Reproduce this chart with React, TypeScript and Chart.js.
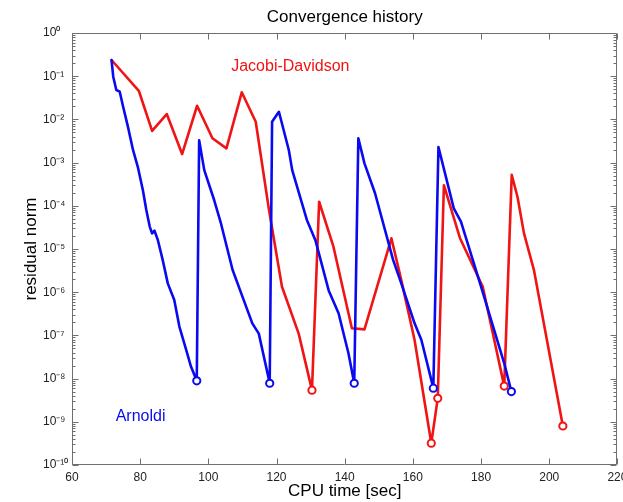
import React, { useEffect, useRef } from 'react';
import { Chart, registerables } from 'chart.js';

Chart.register(...registerables);

// ---- Data ----
const arnoldiTime = [
  71.6, 72.1, 73.0, 74.0, 75.0, 76.4, 77.9, 79.3, 80.8, 81.8, 82.8, 83.5, 84.2, 85.2, 86.6, 88.1, 90.0, 91.5, 93.5, 94.9, 96.6,
  97.3, 98.8, 101.7, 103.7, 107.1, 110.0, 112.9, 114.8, 118.0,
  118.7, 120.7, 123.6, 124.6, 128.9, 131.4, 135.3, 138.2, 141.1, 142.8,
  144.0, 145.8, 148.9, 154.2, 156.6, 160.5, 162.5, 166.0,
  167.5, 172.0, 174.1, 180.0, 186.8, 188.9,
];
const arnoldiRes = [
  0.237, 0.0975, 0.048, 0.0438, 0.0197, 6.8e-3, 1.96e-3, 8.0e-4, 2.3e-4, 8.0e-5, 3.3e-5, 2.3e-5, 2.65e-5, 1.6e-5, 5.6e-6, 1.6e-6, 6.6e-7, 1.6e-7, 4.6e-8, 1.9e-8, 8.9e-9,
  3.3e-3, 6.7e-4, 1.36e-4, 3.9e-5, 3.3e-6, 7.9e-7, 1.9e-7, 1.1e-7, 7.8e-9,
  8.8e-3, 1.5e-2, 1.96e-3, 6.7e-4, 4.7e-5, 1.6e-5, 1.1e-6, 3.25e-7, 3.85e-8, 7.8e-9,
  3.65e-3, 9.6e-4, 1.95e-4, 5.6e-6, 1.6e-6, 1.9e-7, 7.8e-8, 6.0e-9,
  2.3e-3, 8.7e-5, 4.3e-5, 1.34e-6, 2.26e-8, 5.0e-9,
];
const arnoldiMarkers = [20, 29, 39, 47, 53];

const jdTime = [
  71.6, 79.6, 83.5, 87.8, 92.3, 96.7, 101.2, 105.3, 109.8, 113.9, 117.8, 121.6, 126.5, 130.4,
  132.5, 136.7, 142.1, 145.8, 153.7, 156.6, 160.5, 165.4,
  167.3, 169.1, 173.8, 180.5, 186.8,
  189.0, 190.7, 192.6, 195.5, 204.0,
];
const jdRes = [
  0.237, 0.046, 5.4e-3, 1.33e-2, 1.58e-3, 2.07e-2, 3.65e-3, 2.14e-3, 4.24e-2, 8.8e-3, 8.0e-5, 1.34e-6, 1.1e-7, 5.4e-9,
  1.24e-4, 1.13e-5, 1.46e-7, 1.38e-7, 1.77e-5, 1.9e-6, 7.8e-8, 3.2e-10,
  3.5e-9, 3.0e-4, 1.8e-5, 1.34e-6, 6.7e-9,
  5.2e-4, 1.6e-4, 2.3e-5, 3.3e-6, 8.0e-10,
];
const jdMarkers = [13, 21, 22, 26, 31];

const xTickValues = [60, 80, 100, 120, 140, 160, 180, 200, 220];
const yDecades = [-10, -9, -8, -7, -6, -5, -4, -3, -2, -1, 0];

const noteTexts = ['Jacobi-Davidson', 'Arnoldi'];
const noteX = [106.7, 72.8];
const noteY = [0.163, 1.29e-9];

const BLUE = '#0a0af0';
const RED = '#f01414';
const noteColors = [RED, BLUE];
const AXIS = '#6f6f6f';
const FONT = '"Liberation Sans", Arial, Helvetica, sans-serif';

const SUP: Record<string, string> = {
  '0': '\u2070', '1': '\u00b9', '2': '\u00b2', '3': '\u00b3', '4': '\u2074',
  '5': '\u2075', '6': '\u2076', '7': '\u2077', '8': '\u2078', '9': '\u2079', '-': '\u207b',
};
const sup = (n: number) => String(n).split('').map((c) => SUP[c] || c).join('');

const framePlugin = {
  id: 'frame',
  beforeDatasetsDraw(chart: any) {
    const { ctx, chartArea: a, scales } = chart;
    const xs = scales.x;
    const ys = scales.y;
    ctx.save();
    ctx.strokeStyle = AXIS;
    ctx.lineWidth = 1;
    const L = Math.round(a.left) + 0.5;
    const R = Math.round(a.right) - 0.5;
    const T = Math.round(a.top) + 0.5;
    const B = Math.round(a.bottom) - 0.5;
    ctx.beginPath();
    ctx.rect(L, T, R - L, B - T);
    // x major ticks (inward, top and bottom)
    xTickValues.forEach((v) => {
      const p = Math.round(xs.getPixelForValue(v)) + 0.5;
      ctx.moveTo(p, B); ctx.lineTo(p, B - 6);
      ctx.moveTo(p, T); ctx.lineTo(p, T + 6);
    });
    // y major + minor ticks (inward, left and right)
    yDecades.forEach((e) => {
      const p = Math.round(ys.getPixelForValue(Math.pow(10, e))) + 0.5;
      ctx.moveTo(L, p); ctx.lineTo(L + 6, p);
      ctx.moveTo(R, p); ctx.lineTo(R - 6, p);
      if (e < 0) {
        for (let m = 2; m <= 9; m++) {
          const q = Math.round(ys.getPixelForValue(m * Math.pow(10, e))) + 0.5;
          ctx.moveTo(L, q); ctx.lineTo(L + 3, q);
          ctx.moveTo(R, q); ctx.lineTo(R - 3, q);
        }
      }
    });
    ctx.stroke();
    ctx.restore();
  },
  afterDatasetsDraw(chart: any) {
    const { ctx, scales } = chart;
    ctx.save();
    ctx.font = `16px ${FONT}`;
    ctx.textAlign = 'left';
    ctx.textBaseline = 'middle';
    noteTexts.forEach((t, i) => {
      ctx.fillStyle = noteColors[i];
      ctx.fillText(t, scales.x.getPixelForValue(noteX[i]), scales.y.getPixelForValue(noteY[i]));
    });
    ctx.restore();
  },
};

export default function App() {
  const ref = useRef<HTMLCanvasElement>(null);
  useEffect(() => {
    if (!ref.current) return;
    Chart.defaults.font.family = FONT;
    const mk = (ts: number[], rs: number[]) => ts.map((t, i) => ({ x: t, y: rs[i] }));
    const lineStyle = (color: string, markers: number[]) => ({
      borderColor: color,
      borderWidth: 2.6,
      borderJoinStyle: 'round',
      borderCapStyle: 'round',
      tension: 0,
      pointRadius: (c: any) => (markers.includes(c.dataIndex) ? 3.6 : 0),
      pointBorderColor: color,
      pointBackgroundColor: '#ffffff',
      pointBorderWidth: 2,
      pointHoverRadius: 0,
    });
    const chart = new Chart(ref.current, {
      type: 'line',
      data: {
        datasets: [
          { label: 'Arnoldi', data: mk(arnoldiTime, arnoldiRes), ...lineStyle(BLUE, arnoldiMarkers) },
          { label: 'Jacobi-Davidson', data: mk(jdTime, jdRes), ...lineStyle(RED, jdMarkers) },
        ],
      } as any,
      options: {
        animation: false,
        responsive: false,
        devicePixelRatio: 1,
        layout: { padding: { left: 43, right: 2, top: 0, bottom: 0 } },
        plugins: {
          legend: { display: false },
          tooltip: { enabled: false },
          title: {
            display: true,
            text: 'Convergence history',
            fullSize: false,
            color: '#000',
            font: { size: 17, weight: 'normal' },
            padding: { top: 6.8, bottom: 5.8 },
          },
        },
        scales: {
          x: {
            type: 'linear',
            min: 60,
            max: 220,
            afterBuildTicks: (s: any) => { s.ticks = xTickValues.map((v) => ({ value: v })); },
            afterFit: (s: any) => { s.height = 37; s.paddingLeft = 0; s.paddingRight = 0; },
            grid: { display: false, drawTicks: false, tickLength: 0 },
            border: { display: false },
            ticks: { color: '#222', font: { size: 12 }, padding: 5, maxRotation: 0, autoSkip: false },
            title: { display: true, text: 'CPU time [sec]', color: '#000', font: { size: 17 }, padding: { top: 0, bottom: 0 } },
          },
          y: {
            type: 'logarithmic',
            min: 1e-10,
            max: 1,
            afterBuildTicks: (s: any) => { s.ticks = yDecades.map((e) => ({ value: Math.pow(10, e) })); },
            afterFit: (s: any) => { s.width = 29; s.paddingTop = 0; s.paddingBottom = 0; },
            grid: { display: false, drawTicks: false, tickLength: 0 },
            border: { display: false },
            ticks: {
              color: '#222',
              font: { size: 12 },
              crossAlign: 'far',
              autoSkip: false,
              callback: (v: any) => '10' + sup(Math.round(Math.log10(Number(v)))),
            },
            title: { display: true, text: 'residual norm', color: '#000', font: { size: 17 }, padding: { top: -22.2, bottom: 0 } },
          },
        },
      } as any,
      plugins: [framePlugin],
    });
    return () => chart.destroy();
  }, []);
  return (
    <div style={{ position: 'fixed', left: 0, top: 0, width: 623, height: 502, background: '#fff' }}>
      <canvas ref={ref} width={623} height={502} style={{ display: 'block' }} />
    </div>
  );
}
